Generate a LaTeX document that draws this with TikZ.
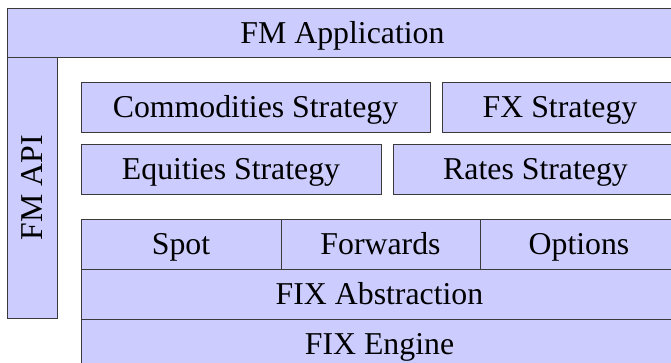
\documentclass[tikz,border=0pt]{standalone}
\usepackage{fontspec}
\setmainfont{Liberation Serif}
\definecolor{layerfill}{HTML}{CCCCFF}
\definecolor{layerline}{HTML}{3A3A3A}
\tikzset{
  blk/.style={draw=layerline, fill=layerfill, line width=1pt, inner sep=0pt,
    text height=21pt, text depth=0pt, align=center,
    font=\fontsize{31.8}{38}\selectfont},
}
\begin{document}
\begin{tikzpicture}[x=1pt,y=-1pt]
  \useasboundingbox (0,0) rectangle (671,362);
  \clip (0,0) rectangle (671,362);
  % application layer on top, API down the left side
  \node[blk, minimum width=671, minimum height=49] (app) at (342.5,32.5) {FM Application};
  \node[blk, rotate=90, minimum width=261, minimum height=50] (api) at (32,187.5) {FM API};
  % strategies
  \node[blk, minimum width=349, minimum height=50] (comm) at (255.5,107) {Commodities Strategy};
  \node[blk, minimum width=236, minimum height=50] (fx) at (560,107) {FX Strategy};
  \node[blk, minimum width=300, minimum height=50] (eq) at (231,169) {Equities Strategy};
  \node[blk, minimum width=285, minimum height=50] (rates) at (535.5,169) {Rates Strategy};
  % products
  \node[blk, minimum width=200, minimum height=50] (spot) at (181,244) {Spot};
  \node[blk, minimum width=199, minimum height=50] (fwd) at (380.5,244) {Forwards};
  \node[blk, minimum width=198, minimum height=50] (opt) at (579,244) {Options};
  % FIX stack
  \node[blk, minimum width=597, minimum height=50] (abs) at (379.5,294) {FIX Abstraction};
  \node[blk, minimum width=597, minimum height=50] (eng) at (379.5,344) {FIX Engine};
\end{tikzpicture}
\end{document}
